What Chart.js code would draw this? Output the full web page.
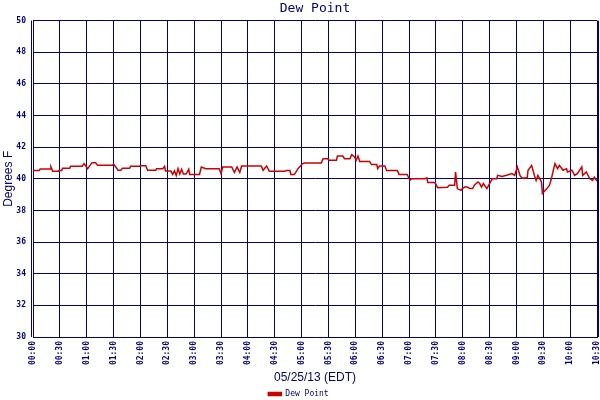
<!DOCTYPE html>
<html>
<head>
<meta charset="utf-8">
<script src="https://cdn.jsdelivr.net/npm/chart.js@4"></script>
<style>
  body { margin: 0; background: #ffffff; }
  #wrap { width: 600px; height: 400px; }
</style>
</head>
<body>
<div id="wrap"><canvas id="dew-chart" width="600" height="400"></canvas></div>
<script>
// readings, local time 05/25/13 (EDT)
const times = [
  "00:00", "00:07", "00:08", "00:19", "00:20", "00:22", "00:28", "00:29", "00:32", "00:33",
  "00:41", "00:42", "00:55", "00:57", "01:01", "01:06", "01:10", "01:12", "01:29", "01:30",
  "01:35", "01:38", "01:40", "01:48", "01:49", "01:59", "02:00", "02:06", "02:08", "02:17",
  "02:18", "02:25", "02:27", "02:28", "02:34", "02:36", "02:38", "02:40", "02:42", "02:44",
  "02:46", "02:48", "02:51", "02:54", "02:55", "03:06", "03:08", "03:13", "03:28", "03:30",
  "03:32", "03:42", "03:45", "03:48", "03:51", "03:53", "04:15", "04:17", "04:21", "04:24",
  "04:41", "04:43", "04:47", "04:48", "04:52", "04:56", "05:01", "05:03", "05:22", "05:24",
  "05:29", "05:31", "05:39", "05:40", "05:46", "05:48", "05:54", "05:56", "05:59", "06:01",
  "06:03", "06:05", "06:16", "06:18", "06:24", "06:25", "06:27", "06:33", "06:35", "06:47",
  "06:49", "06:58", "07:01", "07:03", "07:17", "07:20", "07:21", "07:29", "07:32", "07:43",
  "07:45", "07:51", "07:52", "07:54", "07:58", "08:00", "08:02", "08:05", "08:08", "08:11",
  "08:13", "08:17", "08:19", "08:21", "08:23", "08:27", "08:30", "08:33", "08:38", "08:39",
  "08:44", "08:49", "08:55", "08:58", "09:01", "09:04", "09:06", "09:12", "09:13", "09:17",
  "09:20", "09:22", "09:24", "09:28", "09:29", "09:34", "09:37", "09:39", "09:43", "09:46",
  "09:48", "09:52", "09:56", "09:57", "10:02", "10:05", "10:08", "10:13", "10:14", "10:18",
  "10:22", "10:25", "10:27", "10:30"
];
const dewPoint = [
  40.52, 40.52, 40.62, 40.62, 40.75, 40.47, 40.47, 40.52, 40.52, 40.66,
  40.66, 40.80, 40.80, 40.96, 40.64, 41.02, 41.02, 40.85, 40.85, 40.93,
  40.54, 40.54, 40.66, 40.66, 40.79, 40.79, 40.83, 40.83, 40.54, 40.54,
  40.64, 40.64, 40.79, 40.49, 40.49, 40.28, 40.50, 40.20, 40.64, 40.30,
  40.60, 40.30, 40.30, 40.60, 40.27, 40.27, 40.75, 40.64, 40.64, 40.33,
  40.75, 40.75, 40.40, 40.75, 40.40, 40.81, 40.81, 40.54, 40.81, 40.47,
  40.47, 40.52, 40.52, 40.27, 40.27, 40.64, 40.95, 41.00, 41.00, 41.27,
  41.27, 41.17, 41.17, 41.44, 41.44, 41.27, 41.27, 41.53, 41.40, 41.17,
  41.44, 41.10, 41.10, 40.90, 40.90, 40.64, 40.81, 40.81, 40.52, 40.52,
  40.27, 40.27, 39.90, 40.00, 40.00, 40.05, 39.76, 39.76, 39.44, 39.46,
  39.60, 39.60, 40.43, 39.38, 39.27, 39.40, 39.48, 39.48, 39.38, 39.38,
  39.60, 39.80, 39.70, 39.48, 39.70, 39.38, 39.70, 40.00, 40.00, 40.22,
  40.15, 40.22, 40.33, 40.22, 40.75, 40.22, 40.05, 40.05, 40.54, 40.85,
  40.22, 39.90, 40.22, 39.80, 39.07, 39.38, 39.60, 40.00, 40.96, 40.64,
  40.85, 40.54, 40.64, 40.43, 40.54, 40.22, 40.33, 40.75, 40.22, 40.43,
  40.00, 39.90, 40.10, 39.85
];
const yTicks = [30, 32, 34, 36, 38, 40, 42, 44, 46, 48, 50];
const xTickMinutes = [0, 30, 60, 90, 120, 150, 180, 210, 240, 270, 300,
  330, 360, 390, 420, 450, 480, 510, 540, 570, 600, 630];

const NAVY = "#000080";
const RED = "#cc0000";

const toMinutes = (s) => {
  const [h, m] = s.split(":").map(Number);
  return h * 60 + m;
};
const toLabel = (min) => {
  const h = Math.floor(min / 60);
  const m = min % 60;
  return String(h).padStart(2, "0") + ":" + String(m).padStart(2, "0");
};

// second frame line on the left and right, like the original plot
const doubleFrame = {
  id: "doubleFrame",
  afterDraw(chart) {
    const { ctx, chartArea } = chart;
    ctx.save();
    ctx.strokeStyle = NAVY;
    ctx.lineWidth = 1;
    ctx.beginPath();
    ctx.moveTo(chartArea.left - 1.5, chartArea.top);
    ctx.lineTo(chartArea.left - 1.5, chartArea.bottom);
    ctx.moveTo(chartArea.right + 1.5, chartArea.top);
    ctx.lineTo(chartArea.right + 1.5, chartArea.bottom);
    ctx.stroke();
    ctx.restore();
  },
};

const data = {
  datasets: [
    {
      label: "Dew Point",
      data: times.map((t, i) => ({ x: toMinutes(t), y: dewPoint[i] })),
      borderColor: RED,
      backgroundColor: RED,
      borderWidth: 1.5,
      pointRadius: 0,
      tension: 0,
    },
  ],
};

const config = {
  type: "line",
  data,
  plugins: [doubleFrame],
  options: {
    responsive: false,
    animation: false,
    devicePixelRatio: 1,
    layout: { padding: { left: 0, right: 3, top: 0, bottom: 0 } },
    plugins: {
      title: {
        display: true,
        text: "Dew Point",
        fullSize: false,
        color: NAVY,
        font: { family: "DejaVu Sans Mono", size: 13, weight: "normal" },
        padding: { top: 1, bottom: 4 },
      },
      legend: {
        position: "bottom",
        maxHeight: 12,
        labels: {
          boxWidth: 13,
          boxHeight: 3,
          padding: 2,
          color: NAVY,
          font: { family: "DejaVu Sans Mono", size: 8 },
        },
      },
      tooltip: { enabled: false },
    },
    scales: {
      x: {
        type: "linear",
        min: 0,
        max: 630,
        afterBuildTicks: (scale) => {
          scale.ticks = xTickMinutes.map((v) => ({ value: v }));
        },
        afterFit: (scale) => {
          scale.height = 51;
          scale.paddingLeft = 0;
          scale.paddingRight = 0;
        },
        ticks: {
          autoSkip: false,
          maxRotation: 90,
          minRotation: 90,
          padding: 4,
          color: NAVY,
          font: { family: "DejaVu Sans Mono", size: 8, weight: "bold" },
          callback: (value) => toLabel(value),
        },
        grid: { color: NAVY, lineWidth: 1, drawTicks: false },
        border: { color: NAVY, width: 1 },
        title: {
          display: true,
          text: "05/25/13 (EDT)",
          color: NAVY,
          font: { family: "Liberation Sans", size: 12 },
          padding: { top: 0, bottom: 3 },
        },
      },
      y: {
        type: "linear",
        min: 30,
        max: 50,
        afterBuildTicks: (scale) => {
          scale.ticks = yTicks.map((v) => ({ value: v }));
        },
        afterFit: (scale) => {
          scale.width = 33;
          scale.paddingTop = 0;
          scale.paddingBottom = 0;
        },
        ticks: {
          padding: 7,
          color: NAVY,
          font: { family: "DejaVu Sans Mono", size: 8, weight: "bold" },
        },
        grid: { color: NAVY, lineWidth: 1, drawTicks: false },
        border: { color: NAVY, width: 1 },
        title: {
          display: true,
          text: "Degrees F",
          color: NAVY,
          font: { family: "Liberation Sans", size: 12 },
          padding: { top: 1, bottom: 0 },
        },
      },
    },
  },
};

new Chart(document.getElementById("dew-chart"), config);
</script>
</body>
</html>
